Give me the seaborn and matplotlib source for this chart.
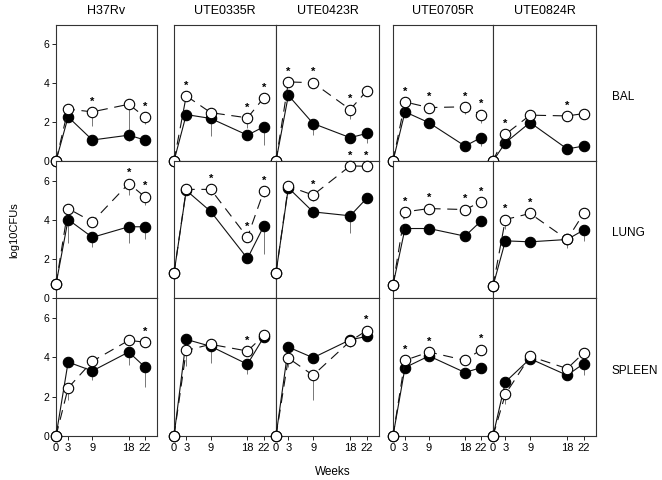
import numpy as np
import matplotlib
matplotlib.use("Agg")
import matplotlib.pyplot as plt
import seaborn as sns
import pandas as pd

# ==========================================
# Data (log10 CFU)
# ==========================================
weeks = [0, 3, 9, 18, 22]
strains = ["H37Rv", "UTE0335R", "UTE0423R", "UTE0705R", "UTE0824R"]
organs = ["BAL", "LUNG", "SPLEEN"]

# filled circles (solid line), one row per strain
bal_closed = [
    [0, 2.27, 1.08, 1.33, 1.08],
    [0, 2.39, 2.19, 1.33, 1.76],
    [0, 3.38, 1.93, 1.20, 1.42],
    [0, 2.53, 1.97, 0.77, 1.20],
    [0, 0.94, 1.98, 0.62, 0.77],
]
bal_open = [
    [0, 2.67, 2.53, 2.92, 2.27],
    [0, 3.35, 2.49, 2.22, 3.25],
    [0, 4.07, 4.03, 2.65, 3.60],
    [0, 3.04, 2.75, 2.79, 2.39],
    [0, 1.37, 2.36, 2.32, 2.44],
]
lung_closed = [
    [0.70, 4.01, 3.10, 3.64, 3.64],
    [1.26, 5.50, 4.42, 2.02, 3.67],
    [1.29, 5.63, 4.40, 4.20, 5.09],
    [0.66, 3.55, 3.55, 3.16, 3.93],
    [0.61, 2.92, 2.87, 2.99, 3.47],
]
lung_open = [
    [0.70, 4.57, 3.89, 5.85, 5.17],
    [1.26, 5.55, 5.55, 3.10, 5.46],
    [1.29, 5.71, 5.26, 6.75, 6.73],
    [0.66, 4.40, 4.57, 4.52, 4.91],
    [0.61, 4.01, 4.32, 2.99, 4.32],
]
spleen_closed = [
    [0, 3.75, 3.30, 4.26, 3.50],
    [0, 4.90, 4.55, 3.64, 5.01],
    [0, 4.51, 3.97, 4.88, 5.05],
    [0, 3.47, 4.06, 3.22, 3.47],
    [0, 2.74, 3.92, 3.08, 3.67],
]
spleen_open = [
    [0, 2.44, 3.79, 4.85, 4.76],
    [0, 4.34, 4.65, 4.31, 5.10],
    [0, 3.95, 3.08, 4.81, 5.35],
    [0, 3.84, 4.26, 3.84, 4.38],
    [0, 2.12, 4.04, 3.42, 4.21],
]

# lower error bar lengths
bal_closed_err = [
    [0, 0, 0, 0, 0],
    [0, 0.3, 0.9, 0, 0.95],
    [0, 0, 0.6, 0, 0.5],
    [0, 0, 0, 0, 0.45],
    [0, 0, 0, 0, 0],
]
bal_open_err = [
    [0, 0, 0.75, 1.9, 0.35],
    [0, 0, 0, 0.5, 0],
    [0, 0, 0, 0.5, 0],
    [0, 0, 0.3, 0.35, 0.45],
    [0, 0, 0, 0, 0],
]
lung_closed_err = [
    [0, 1.2, 0.5, 0.85, 0.65],
    [0, 0, 0, 0, 1.4],
    [0, 0, 0.3, 0.9, 0],
    [0, 0.3, 0.15, 0.15, 0],
    [0, 0, 0, 0, 0.55],
]
lung_open_err = [
    [0, 0, 0, 0.6, 0.4],
    [0, 0, 0.3, 0, 0.3],
    [0, 0, 0.3, 0, 0],
    [0, 0, 0, 0.15, 0],
    [0, 0.5, 0.3, 0.45, 0],
]
spleen_closed_err = [
    [0, 0, 0.47, 0.67, 1.0],
    [0, 0, 0.85, 0.47, 0],
    [0, 0, 0, 0, 0],
    [0, 0, 0, 0, 0.2],
    [0, 0, 0.2, 0.2, 0.6],
]
spleen_open_err = [
    [0, 0.6, 0, 0, 0],
    [0, 0.8, 0, 0, 0.2],
    [0, 0.45, 1.26, 0.3, 0],
    [0, 0, 0, 0, 0],
    [0, 0.5, 0, 0, 0],
]

# significance asterisks (weeks, on the open series)
bal_stars = [[9, 22], [3, 18, 22], [3, 9, 18], [3, 9, 18, 22], [3, 18]]
lung_stars = [[18, 22], [9, 18, 22], [9, 18, 22], [3, 9, 18, 22], [3, 9]]
spleen_stars = [[22], [18], [22], [3, 9, 22], []]

closed_all = [bal_closed, lung_closed, spleen_closed]
open_all = [bal_open, lung_open, spleen_open]
closed_err_all = [bal_closed_err, lung_closed_err, spleen_closed_err]
open_err_all = [bal_open_err, lung_open_err, spleen_open_err]
stars_all = [bal_stars, lung_stars, spleen_stars]

# ==========================================
# Layout (pixel boxes of the original panels)
# ==========================================
W, H = 662, 480
col_px = [(56, 157), (174, 276), (276, 379), (393, 493), (493, 596)]
row_px = [(25, 161), (161, 298), (298, 436)]

sns.set_style("ticks")
plt.rcParams['font.family'] = ['Liberation Sans', 'DejaVu Sans']
plt.rcParams.update({"text.color": "black", "xtick.color": "#222222",
                     "ytick.color": "#222222", "xtick.labelcolor": "black",
                     "ytick.labelcolor": "black"})

fig = plt.figure(figsize=(W / 100, H / 100), dpi=100)

for r, organ in enumerate(organs):
    for c, strain in enumerate(strains):
        x0, x1 = col_px[c]
        y0, y1 = row_px[r]
        ax = fig.add_axes([x0 / W, 1 - y1 / H, (x1 - x0) / W, (y1 - y0) / H])

        df = pd.DataFrame({
            "week": weeks * 2,
            "log10CFU": closed_all[r][c] + open_all[r][c],
            "group": ["closed"] * 5 + ["open"] * 5,
        })
        dc = df[df.group == "closed"]
        do = df[df.group == "open"]

        # error bars (downward only)
        ax.vlines(weeks, np.array(closed_all[r][c]) - np.array(closed_err_all[r][c]),
                  closed_all[r][c], color="#777777", lw=0.7, zorder=1)
        ax.vlines(weeks, np.array(open_all[r][c]) - np.array(open_err_all[r][c]),
                  open_all[r][c], color="#777777", lw=0.7, zorder=1)

        sns.lineplot(data=dc, x="week", y="log10CFU", ax=ax, color="#111111",
                     lw=0.8, marker="o", markersize=7.5, markerfacecolor="black",
                     markeredgecolor="black", markeredgewidth=0.8,
                     clip_on=False, zorder=3)
        sns.lineplot(data=do, x="week", y="log10CFU", ax=ax, color="#111111",
                     lw=0.8, linestyle=(0, (9, 6)), marker="o", markersize=7.5,
                     markerfacecolor="white", markeredgecolor="black",
                     markeredgewidth=0.8, clip_on=False, zorder=4)

        for wk in stars_all[r][c]:
            yv = open_all[r][c][weeks.index(wk)]
            ax.text(wk, yv + 0.28, "*", ha="center", va="bottom", fontsize=8,
                    fontweight="bold", color="black", zorder=5)

        ax.set_xlim(0, 25)
        ax.set_ylim(0, 7)
        ax.set_xlabel("")
        ax.set_ylabel("")
        for sp in ax.spines.values():
            sp.set_visible(True)
            sp.set_color("#333333")
            sp.set_linewidth(0.8)

        if c == 0:
            ax.set_yticks([0, 2, 4, 6])
            ax.tick_params(axis="y", length=3, width=0.7, labelsize=7.5, pad=2)
        else:
            ax.set_yticks([])
        if r == 2:
            ax.set_xticks(weeks)
            ax.tick_params(axis="x", length=3, width=0.7, labelsize=8, pad=2)
        else:
            ax.set_xticks([])

        if r == 0:
            ax.set_title(strain, fontsize=9, pad=8, color="black")

for r, organ in enumerate(organs):
    y0, y1 = row_px[r]
    fig.text(612 / W, 1 - ((y0 + y1) / 2 + 4) / H, organ, ha="left", va="center",
             fontsize=8.5)

fig.text(14 / W, 1 - 230 / H, "log10CFUs", rotation=90, ha="center", va="center",
         fontsize=8)
fig.text(333 / W, 1 - 472 / H, "Weeks", ha="center", va="center", fontsize=8.5)

fig.savefig("out.png", dpi=100)
